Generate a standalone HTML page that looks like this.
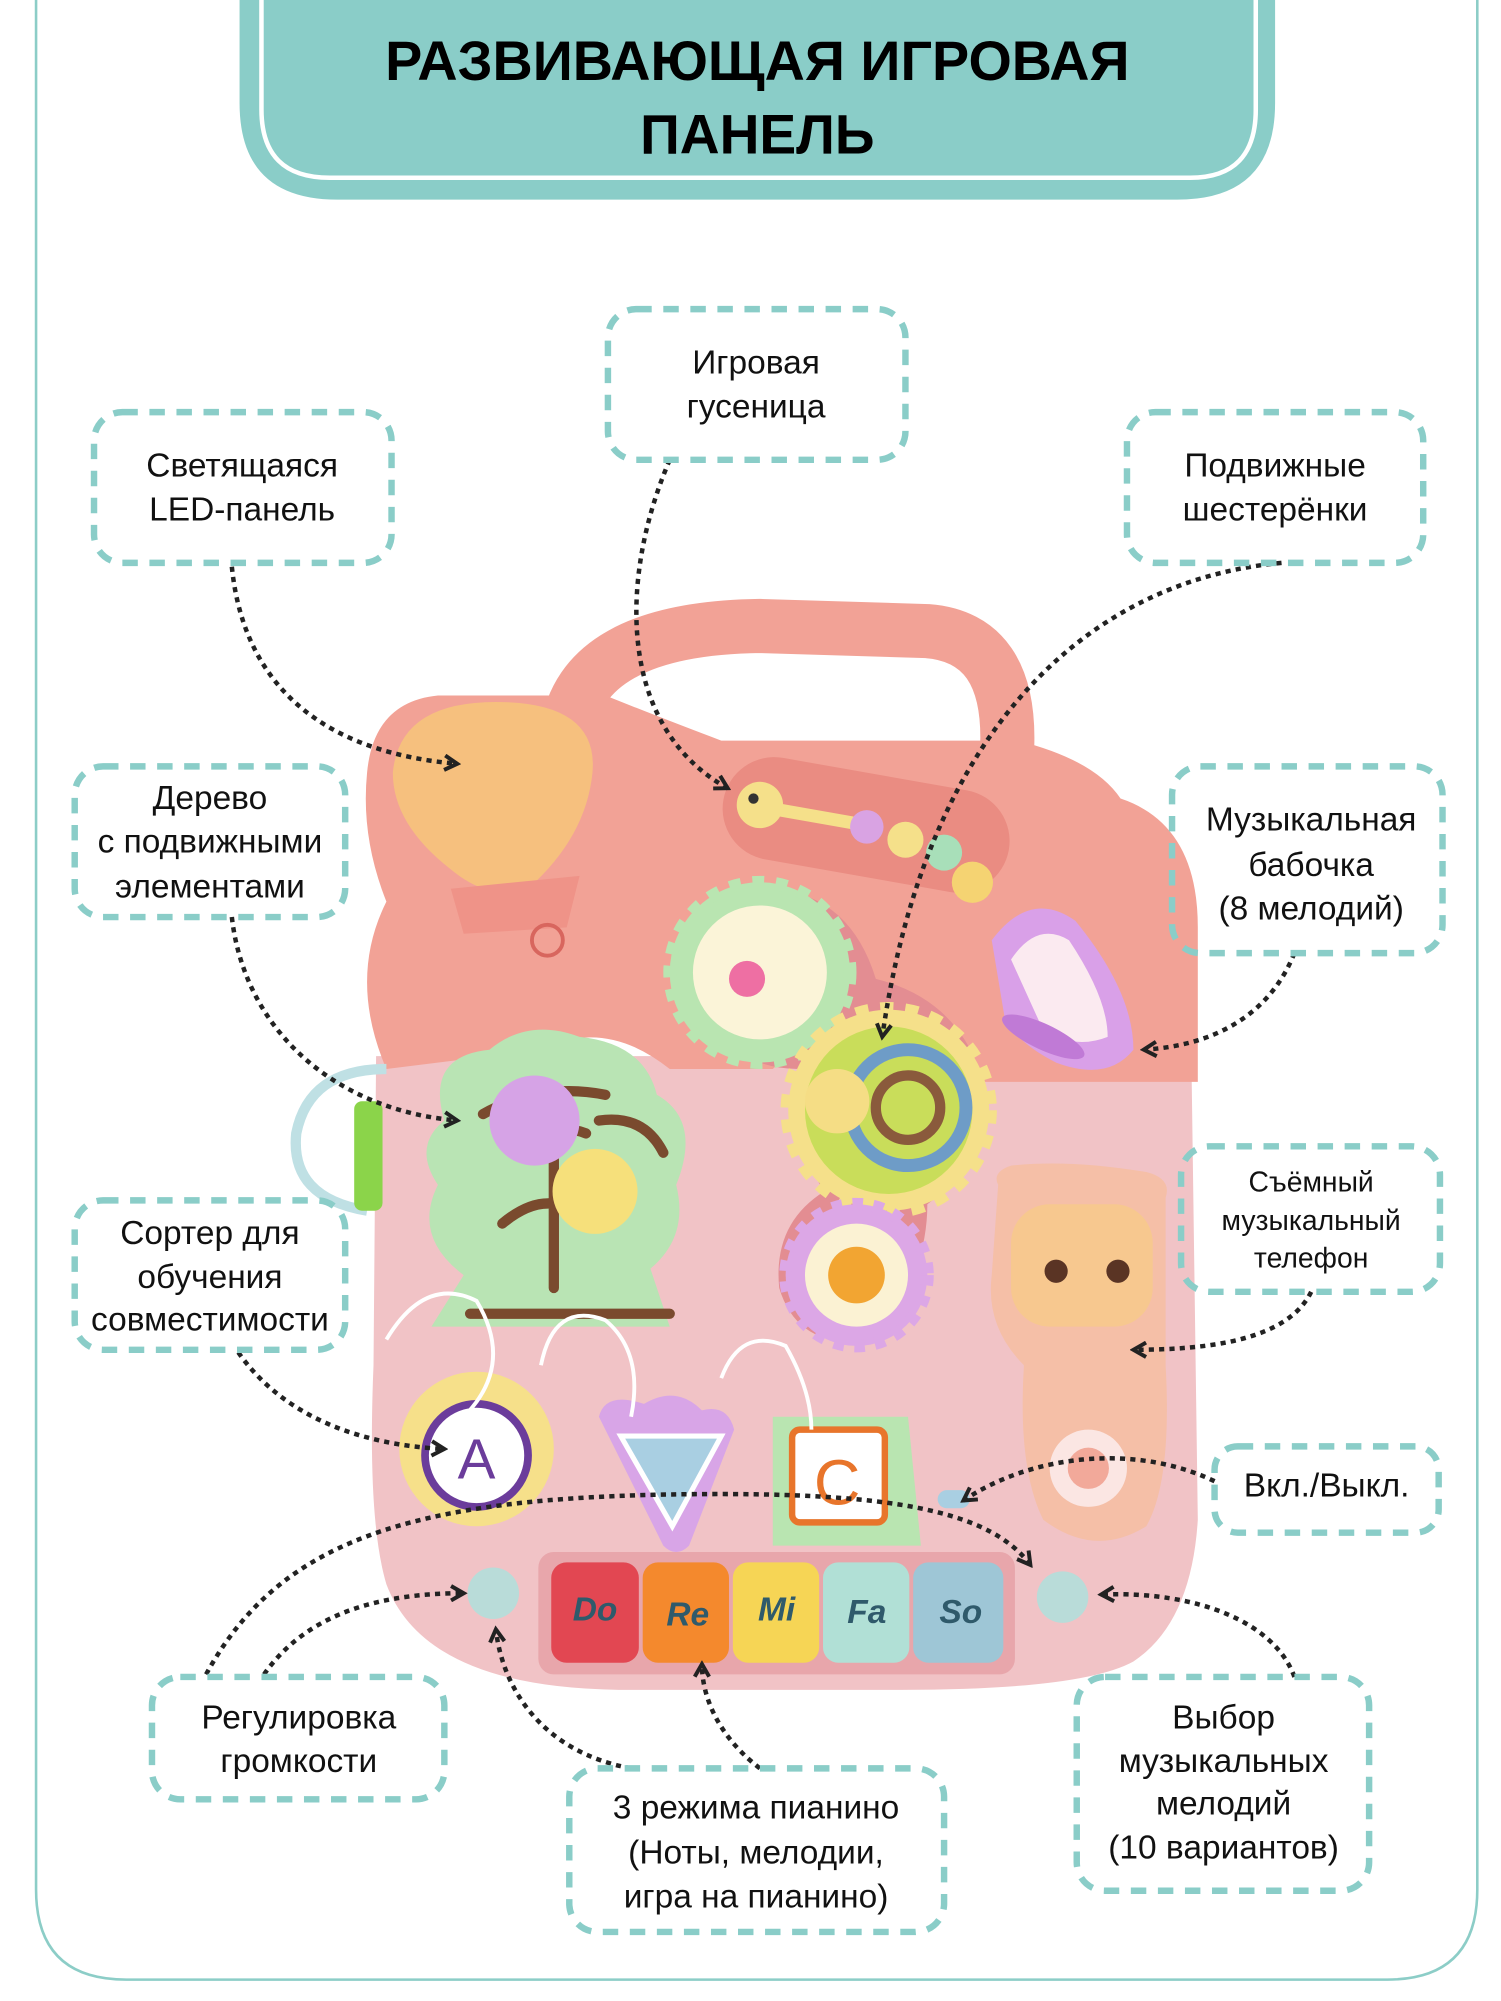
<!DOCTYPE html>
<html><head><meta charset="utf-8"><style>html,body{margin:0;padding:0;background:#fff}svg{display:block}</style></head>
<body>
<svg width="1501" height="2001" viewBox="0 0 1165.4 1553.6" xmlns="http://www.w3.org/2000/svg" font-family="Liberation Sans, sans-serif">
<defs>
<marker id="a" viewBox="0 0 10 10" refX="8" refY="5" markerWidth="4" markerHeight="4" orient="auto" markerUnits="strokeWidth">
<path d="M1 1 L8 5 L1 9" fill="none" stroke="#222" stroke-width="2.2"/></marker>
</defs>
<path d="M28 -5 L28 1467 Q28 1537 98 1537 L1077 1537 Q1147 1537 1147 1467 L1147 -5" fill="none" stroke="#8ccdc7" stroke-width="2"/>
<path d="M186 0 L186 80 Q186 155 262 155 L914 155 Q990 155 990 80 L990 0 Z" fill="#8acdc8"/>
<path d="M203 0 L203 85 Q203 138 256 138 L924 138 Q975 138 975 85 L975 0" fill="none" stroke="#fff" stroke-width="3.5"/>
<text x="588" y="62" font-size="43" font-weight="bold" text-anchor="middle" textLength="578" lengthAdjust="spacingAndGlyphs">РАЗВИВАЮЩАЯ ИГРОВАЯ</text>
<text x="588" y="119" font-size="43" font-weight="bold" text-anchor="middle" textLength="182" lengthAdjust="spacingAndGlyphs">ПАНЕЛЬ</text>

<!-- TOY -->
<path d="M440 570 Q450 488 590 486 L720 490 Q785 495 782 580" fill="none" stroke="#f2a296" stroke-width="42"/>
<path d="M292 820 L925 820 L930 1180 Q925 1260 880 1290 Q840 1312 700 1312 L480 1312 Q330 1310 300 1230 Q285 1180 290 1060 Z" fill="#f1c3c6"/>
<path d="M285 600 Q290 545 340 540 L470 540 Q520 560 560 575 L790 575 Q850 590 870 620 Q930 640 930 720 L930 840 L700 840 Q640 790 600 830 L520 830 Q470 790 420 815 L300 830 Q270 760 300 700 Q280 650 285 600 Z" fill="#f2a296"/>
<path d="M305 600 Q310 545 385 545 Q465 545 460 600 Q455 650 410 690 Q380 700 350 675 Q305 640 305 600 Z" fill="#f6c07e"/>
<path d="M350 690 L450 680 L440 720 L360 725 Z" fill="#ef9388"/>
<circle cx="425" cy="730" r="12" fill="none" stroke="#d8665e" stroke-width="3"/>
<rect x="560" y="600" width="225" height="80" rx="40" fill="#ea8c82" transform="rotate(10 670 640)"/>
<circle cx="590" cy="625" r="18" fill="#f5e08a"/><circle cx="585" cy="620" r="4" fill="#333"/>
<rect x="600" y="630" width="80" height="10" fill="#f5e08a" transform="rotate(10 640 635)"/>
<circle cx="673" cy="642" r="13" fill="#d9a3e3"/><circle cx="703" cy="652" r="14" fill="#f5e08a"/>
<circle cx="733" cy="662" r="14" fill="#a8dfb9"/><circle cx="755" cy="685" r="16" fill="#f5d372"/>
<!-- gear hole -->
<path d="M525 760 Q530 695 600 690 Q660 695 680 760 Q740 775 760 830 Q770 900 720 935 Q720 990 680 1040 Q620 1050 605 1000 Q600 950 640 925 Q610 880 620 830 Q560 830 525 760 Z" fill="#e38d92"/>
<circle cx="590" cy="755" r="70" fill="#b9e5b1" stroke="#b9e5b1" stroke-width="10" stroke-dasharray="9 9"/>
<circle cx="590" cy="755" r="52" fill="#fbf4d8"/>
<circle cx="580" cy="760" r="14" fill="#ee6fa3"/>
<circle cx="690" cy="862" r="78" fill="#f5e08a" stroke="#f5e08a" stroke-width="12" stroke-dasharray="10 9"/>
<circle cx="690" cy="862" r="65" fill="#c9dd5a"/>
<circle cx="705" cy="860" r="45" fill="none" stroke="#6e9cc7" stroke-width="10"/>
<circle cx="705" cy="860" r="25" fill="none" stroke="#8a5a3c" stroke-width="8"/>
<circle cx="650" cy="855" r="25" fill="#f5dd85"/>
<circle cx="665" cy="990" r="55" fill="#dca7e6" stroke="#dca7e6" stroke-width="10" stroke-dasharray="8 8"/>
<circle cx="665" cy="990" r="40" fill="#fbf2d3"/><circle cx="665" cy="990" r="22" fill="#f2a532"/>
<path d="M770 730 Q800 690 835 715 Q880 770 880 815 Q860 840 820 825 Q790 810 780 790 Z" fill="#d9a0e8"/>
<path d="M785 745 Q805 715 830 730 Q860 775 860 805 Q835 815 810 800 Z" fill="#fbeaf0"/>
<ellipse cx="810" cy="805" rx="35" ry="10" fill="#c07ad6" transform="rotate(25 810 805)"/>
<path d="M345 870 Q330 820 380 815 Q410 790 450 805 Q500 810 510 850 Q545 870 525 920 Q535 960 505 985 L520 1030 L335 1030 L360 990 Q320 960 340 920 Q320 890 345 870 Z" fill="#b9e4b4"/>
<path d="M375 865 Q420 840 470 850 M400 890 Q430 870 455 880 M465 870 Q500 865 515 895 M390 950 Q420 925 445 940 M430 900 L430 1000 M365 1020 L520 1020" fill="none" stroke="#7a4a2e" stroke-width="8" stroke-linecap="round"/>
<circle cx="415" cy="870" r="35" fill="#d6a3e6"/>
<circle cx="462" cy="925" r="33" fill="#f6e07b"/>
<path d="M300 830 Q240 830 230 880 Q225 930 285 940" fill="none" stroke="#bfe0e4" stroke-width="8"/>
<rect x="275" y="855" width="22" height="85" rx="6" fill="#8bd44a"/>
<path d="M775 920 Q770 910 785 905 Q830 900 890 910 Q910 915 905 930 L905 1060 Q910 1150 890 1185 Q850 1210 810 1180 Q790 1140 795 1060 Q765 1030 770 990 Z" fill="#f5bfa7"/>
<rect x="785" y="935" width="110" height="95" rx="30" fill="#f7c88f"/>
<circle cx="820" cy="987" r="9" fill="#5a3424"/><circle cx="868" cy="987" r="9" fill="#5a3424"/>
<circle cx="845" cy="1140" r="30" fill="#fbe6e3"/><circle cx="845" cy="1140" r="16" fill="#f2a99a"/>
<circle cx="370" cy="1125" r="60" fill="#f6e08a"/>
<circle cx="370" cy="1130" r="40" fill="#fff" stroke="#6b3c9b" stroke-width="6"/>
<text x="370" y="1148" font-size="44" text-anchor="middle" fill="#6b3c9b">A</text>
<path d="M465 1100 Q470 1080 500 1090 Q525 1075 545 1095 Q565 1090 570 1110 L535 1200 Q525 1210 515 1200 Z" fill="#d8a5e7"/>
<path d="M482 1115 L560 1115 L522 1185 Z" fill="#a9cfe2" stroke="#fff" stroke-width="4"/>
<path d="M600 1100 L705 1100 L715 1200 L600 1200 Z" fill="#b9e5b1"/>
<rect x="615" y="1110" width="72" height="72" rx="6" fill="#fff" stroke="#e8752b" stroke-width="5"/>
<text x="650" y="1168" font-size="50" text-anchor="middle" fill="#e8752b">C</text>
<path d="M300 1040 Q330 990 370 1010 Q400 1060 360 1100 M420 1060 Q430 1010 470 1025 Q500 1050 490 1100 M560 1070 Q575 1030 610 1045 Q630 1080 630 1110" fill="none" stroke="#fff" stroke-width="3"/>
<rect x="728" y="1157" width="25" height="14" rx="7" fill="#a9cfe2"/>
<rect x="418" y="1205" width="370" height="95" rx="12" fill="#e8a6ab"/>
<rect x="428" y="1213" width="68" height="78" rx="12" fill="#e24752"/>
<rect x="499" y="1213" width="67" height="78" rx="12" fill="#f4892d"/>
<rect x="569" y="1213" width="67" height="78" rx="12" fill="#f6d555"/>
<rect x="639" y="1213" width="67" height="78" rx="12" fill="#b1e0d6"/>
<rect x="709" y="1213" width="70" height="78" rx="12" fill="#9ec6d6"/>
<g font-size="26" font-weight="bold" font-style="italic" fill="#2f5a6b" text-anchor="middle">
<text x="462" y="1258">Do</text><text x="534" y="1262">Re</text><text x="603" y="1258">Mi</text><text x="673" y="1260">Fa</text><text x="746" y="1260">So</text></g>
<circle cx="383" cy="1237" r="20" fill="#b9dcd9"/><circle cx="825" cy="1240" r="20" fill="#b9dcd9"/>

<g fill="none" stroke="#222" stroke-width="3.5" stroke-dasharray="4 4" marker-end="url(#a)">
<path d="M180 440 C190 540 260 585 355 593"/>
<path d="M520 357 C480 450 480 565 565 612"/>
<path d="M995 437 C850 450 720 560 685 805"/>
<path d="M180 712 C190 800 260 862 355 870"/>
<path d="M1005 740 C985 790 940 812 888 815"/>
<path d="M185 1050 C220 1100 280 1122 345 1125"/>
<path d="M1018 1003 C1000 1040 940 1048 880 1048"/>
<path d="M943 1150 C880 1120 800 1130 748 1165"/>
<path d="M160 1300 C220 1190 330 1160 560 1160 C700 1160 770 1175 800 1215"/>
<path d="M205 1300 C240 1250 300 1237 360 1237"/>
<path d="M490 1373 C420 1360 390 1310 385 1265"/>
<path d="M590 1373 C560 1350 545 1320 545 1292"/>
<path d="M1005 1302 C990 1260 930 1235 855 1238"/>
</g>

<g fill="none" stroke="#8acdc8" stroke-width="5" stroke-dasharray="12 9">
<rect x="73" y="320" width="231" height="117" rx="22"/>
<rect x="472" y="240" width="231" height="117" rx="22"/>
<rect x="875" y="320" width="230" height="117" rx="22"/>
<rect x="58" y="595" width="210" height="117" rx="22"/>
<rect x="910" y="595" width="210" height="145" rx="22"/>
<rect x="58" y="932" width="210" height="116" rx="22"/>
<rect x="917" y="890" width="201" height="113" rx="22"/>
<rect x="943" y="1123" width="174" height="67" rx="18"/>
<rect x="118" y="1302" width="227" height="95" rx="22"/>
<rect x="442" y="1373" width="291" height="127" rx="22"/>
<rect x="836" y="1302" width="227" height="166" rx="22"/>
</g>
<g font-size="26" text-anchor="middle" fill="#111">
<text x="188" y="370">Светящаяся</text><text x="188" y="404">LED-панель</text>
<text x="587" y="290">Игровая</text><text x="587" y="324">гусеница</text>
<text x="990" y="370">Подвижные</text><text x="990" y="404">шестерёнки</text>
<text x="163" y="628">Дерево</text><text x="163" y="662">с подвижными</text><text x="163" y="697">элементами</text>
<text x="1018" y="645">Музыкальная</text><text x="1018" y="680">бабочка</text><text x="1018" y="714">(8 мелодий)</text>
<text x="163" y="966">Сортер для</text><text x="163" y="1000">обучения</text><text x="163" y="1033">совместимости</text>
<text x="1030" y="1162">Вкл./Выкл.</text>
<text x="232" y="1342">Регулировка</text><text x="232" y="1376">громкости</text>
<text x="587" y="1412">3 режима пианино</text><text x="587" y="1447">(Ноты, мелодии,</text><text x="587" y="1481">игра на пианино)</text>
<text x="950" y="1342">Выбор</text><text x="950" y="1376">музыкальных</text><text x="950" y="1409">мелодий</text><text x="950" y="1443">(10 вариантов)</text>
</g>
<g font-size="22" text-anchor="middle" fill="#111">
<text x="1018" y="925">Съёмный</text><text x="1018" y="955">музыкальный</text><text x="1018" y="984">телефон</text>
</g>
</svg>
</body></html>
